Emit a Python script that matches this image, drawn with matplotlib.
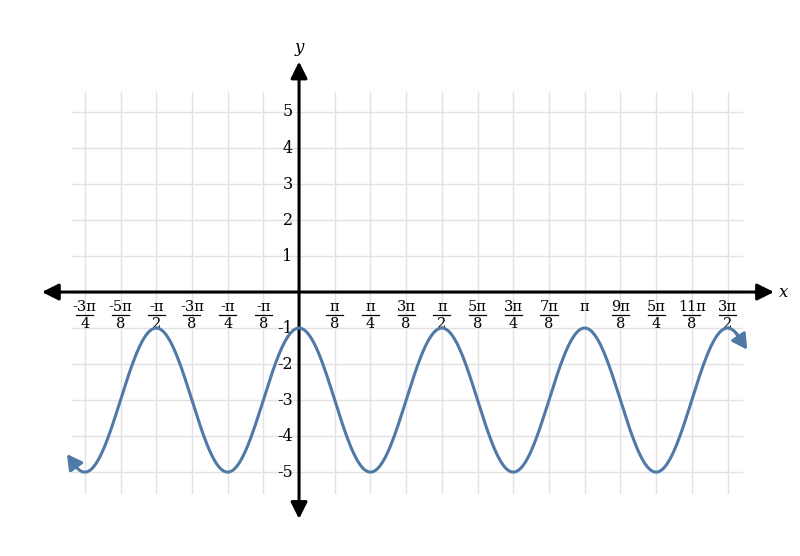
import matplotlib.pyplot as plt
import numpy as np
from matplotlib.patches import FancyArrowPatch

# curve: peaks at -1, troughs at -5, period pi/2, peak at x=0
amplitude = 2.0
midline = -3.0
period = np.pi / 2
x_start = -6.3 * np.pi / 8
x_end = 12.3 * np.pi / 8

# tick labels, in steps of pi/8
x_steps = [-6, -5, -4, -3, -2, -1, 1, 2, 3, 4, 5, 6, 7, 8, 9, 10, 11, 12]
x_nums = ['-3π', '-5π', '-π', '-3π', '-π', '-π', 'π', 'π', '3π', 'π',
          '5π', '3π', '7π', 'π', '9π', '5π', '11π', '3π']
x_dens = ['4', '8', '2', '8', '4', '8', '8', '4', '8', '2',
          '8', '4', '8', '', '8', '4', '8', '2']
y_ticks = [-5, -4, -3, -2, -1, 1, 2, 3, 4, 5]

u = np.pi / 8
blue = '#4f7aa5'
serif = 'DejaVu Serif'
head = '-|>,head_length=10,head_width=5'

fig = plt.figure(figsize=(8, 5.56), dpi=100)
ax = fig.add_axes([0, 0, 1, 1])
ax.set_xlim(-8.375 * u, 14.03 * u)
ax.set_ylim(-7.33, 8.11)
ax.axis('off')

# grid
gx0, gx1 = -6.36 * u, 12.4 * u
gy0, gy1 = -5.58, 5.56
for k in range(-6, 13):
    ax.plot([k * u, k * u], [gy0, gy1], color='#e2e2e2', lw=1, zorder=1)
for j in range(-5, 6):
    ax.plot([gx0, gx1], [j, j], color='#e2e2e2', lw=1, zorder=1)

# axes with arrows at both ends
ax.add_patch(FancyArrowPatch((-7.2 * u, 0), (13.3 * u, 0), arrowstyle='<|-|>,head_length=10,head_width=5',
                             color='black', lw=2.2, zorder=3, shrinkA=0, shrinkB=0))
ax.add_patch(FancyArrowPatch((0, -6.3), (0, 6.4), arrowstyle='<|-|>,head_length=10,head_width=5',
                             color='black', lw=2.2, zorder=3, shrinkA=0, shrinkB=0))

ax.text(13.45 * u, 0, 'x', fontsize=12, style='italic', family=serif, va='center', ha='left')
ax.text(0, 6.55, 'y', fontsize=12, style='italic', family=serif, va='bottom', ha='center')

# curve
xs = np.linspace(x_start, x_end, 600)
ys = midline + amplitude * np.cos(2 * np.pi * xs / period)
ax.plot(xs, ys, color=blue, lw=2.2, zorder=4, solid_capstyle='butt')
ax.add_patch(FancyArrowPatch((xs[2], ys[2]), (-6.5 * u, -4.5), arrowstyle='-|>,head_length=9,head_width=5',
                             color=blue, lw=2.2, zorder=4, shrinkA=0, shrinkB=0))
ax.add_patch(FancyArrowPatch((xs[-3], ys[-3]), (12.55 * u, -1.6), arrowstyle='-|>,head_length=9,head_width=5',
                             color=blue, lw=2.2, zorder=4, shrinkA=0, shrinkB=0))

# x tick labels as stacked fractions
for k, num, den in zip(x_steps, x_nums, x_dens):
    ax.text(k * u, -0.22, num, fontsize=10.5, family=serif, ha='center', va='top')
    if den:
        ax.plot([k * u - 0.24 * u, k * u + 0.24 * u], [-0.64, -0.64], color='black', lw=0.9)
        ax.text(k * u, -0.7, den, fontsize=10.5, family=serif, ha='center', va='top')

# y tick labels
for v in y_ticks:
    ax.text(-0.18 * u, v, '%d' % v, fontsize=11.5, family=serif, ha='right', va='center')

fig.savefig('out.png', dpi=100)
